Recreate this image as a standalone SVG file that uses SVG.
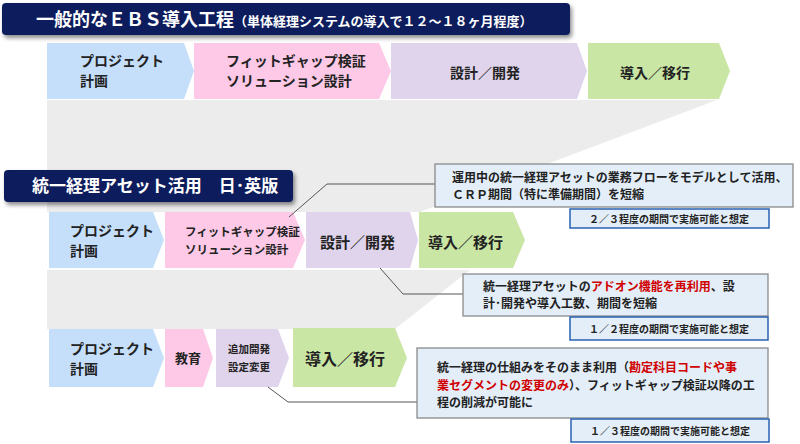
<svg xmlns="http://www.w3.org/2000/svg" width="800" height="444" viewBox="0 0 800 444">
<defs>
<filter id="sh" x="-5%" y="-20%" width="110%" height="150%"><feDropShadow dx="2" dy="3" stdDeviation="2" flood-color="#000" flood-opacity="0.45"/></filter>
<style>
text{font-family:"Noto Sans CJK JP","Noto Sans",sans-serif;font-weight:bold;fill:#222}
.t{fill:#fff}
.b{fill:#c5dffb}.p{fill:#fdc9e6}.v{fill:#e0d4ec}.g{fill:#c9e6a4}
.call{fill:#e3eef9;stroke:#8a8a8a;stroke-width:1.3}
.note{fill:#e3eef9;stroke:#2a62b0;stroke-width:1.5}
.r{fill:#d00000}
.ld{fill:none;stroke:#555;stroke-width:1}
</style>
</defs>
<g id="bands">
<polygon points="47,100 717,100 420,212 47,212" fill="#ececec"/>
<polygon points="47,270 470,270 395,329 47,329" fill="#ececec"/>
</g>
<g id="title1"><rect x="2" y="3" width="568" height="32" rx="4" fill="#0c1f5c" filter="url(#sh)"/>
<text x="36" y="26" class="t" font-size="18">一般的なＥＢＳ導入工程<tspan font-size="13">（単体経理システムの導入で１２～１８ヶ月程度）</tspan></text></g>
<g id="row1">
<polygon class="b" points="47,43 184,43 194,71 184,99 47,99"/>
<polygon class="p" points="194,43 379,43 391,71 379,99 194,99"/>
<polygon class="v" points="391,43 577,43 587,71 577,99 391,99"/>
<polygon class="g" points="588,43 719,43 730,71 719,99 588,99"/>
<text x="80" y="66" font-size="14">プロジェクト</text><text x="80" y="86" font-size="14">計画</text>
<text x="226" y="66" font-size="14">フィットギャップ検証</text><text x="226" y="86" font-size="14">ソリューション設計</text>
<text x="485" y="78" font-size="14" text-anchor="middle">設計／開発</text>
<text x="655" y="78" font-size="14" text-anchor="middle">導入／移行</text>
</g>
<g id="title2"><rect x="4" y="170" width="289" height="32" rx="4" fill="#0c1f5c" filter="url(#sh)"/>
<text x="32" y="192" class="t" font-size="17">統一経理アセット活用　日･英版</text></g>
<g id="row2">
<polygon class="b" points="49,212 153,212 164,240 153,268 49,268"/>
<polygon class="p" points="165,212 293,212 305,240 293,268 165,268"/>
<polygon class="v" points="306,212 410,212 418,240 410,268 306,268"/>
<polygon class="g" points="419,212 513,212 525,240 513,268 419,268"/>
<text x="70" y="236" font-size="14">プロジェクト</text><text x="70" y="256" font-size="14">計画</text>
<text x="185" y="236" font-size="11.5">フィットギャップ検証</text><text x="185" y="254" font-size="11.5">ソリューション設計</text>
<text x="320" y="248" font-size="15">設計／開発</text>
<text x="428" y="248" font-size="15">導入／移行</text>
</g>
<g id="row3">
<polygon class="b" points="49,329 153,329 164,358 153,387 49,387"/>
<polygon class="p" points="165,329 203,329 213,358 203,387 165,387"/>
<polygon class="v" points="216,329 278,329 289,358 278,387 216,387"/>
<polygon class="g" points="293,328 395,328 407,358 395,387 293,387"/>
<text x="70" y="354" font-size="14">プロジェクト</text><text x="70" y="374" font-size="14">計画</text>
<text x="188" y="363" font-size="13" text-anchor="middle">教育</text>
<text x="228" y="353" font-size="10.5">追加開発</text><text x="228" y="371" font-size="10.5">設定変更</text>
<text x="345" y="365" font-size="16" text-anchor="middle">導入／移行</text>
</g>
<g id="connectors">
<polyline class="ld" points="289,217 327,184 435,184"/>
<polyline class="ld" points="380,268 403,294 463,294"/>
<polyline class="ld" points="268,387 288,402 417,402"/>
</g>
<g id="callout1"><rect class="call" x="435" y="164" width="358" height="43"/>
<text x="452" y="182" font-size="12">運用中の統一経理アセットの業務フローをモデルとして活用、</text>
<text x="452" y="199" font-size="12">ＣＲＰ期間（特に準備期間）を短縮</text>
<rect class="note" x="570" y="209" width="199" height="19"/>
<text x="669" y="223" font-size="10" text-anchor="middle">２／３程度の期間で実施可能と想定</text></g>
<g id="callout2"><rect class="call" x="463" y="274" width="305" height="42"/>
<text x="483" y="291" font-size="12">統一経理アセットの<tspan class="r">アドオン機能を再利用</tspan>、設</text>
<text x="483" y="308" font-size="12">計･開発や導入工数、期間を短縮</text>
<rect class="note" x="570" y="317" width="198" height="23"/>
<text x="669" y="333" font-size="10" text-anchor="middle">１／２程度の期間で実施可能と想定</text></g>
<g id="callout3"><rect class="call" x="417" y="348" width="351" height="70"/>
<text x="437" y="372" font-size="12">統一経理の仕組みをそのまま利用（<tspan class="r">勘定科目コードや事</tspan></text>
<text x="437" y="390" font-size="12"><tspan class="r">業セグメントの変更のみ</tspan>）、フィットギャップ検証以降の工</text>
<text x="437" y="407" font-size="12">程の削減が可能に</text>
<rect class="note" x="571" y="419" width="198" height="23"/>
<text x="670" y="435" font-size="10" text-anchor="middle">１／３程度の期間で実施可能と想定</text></g>
</svg>
